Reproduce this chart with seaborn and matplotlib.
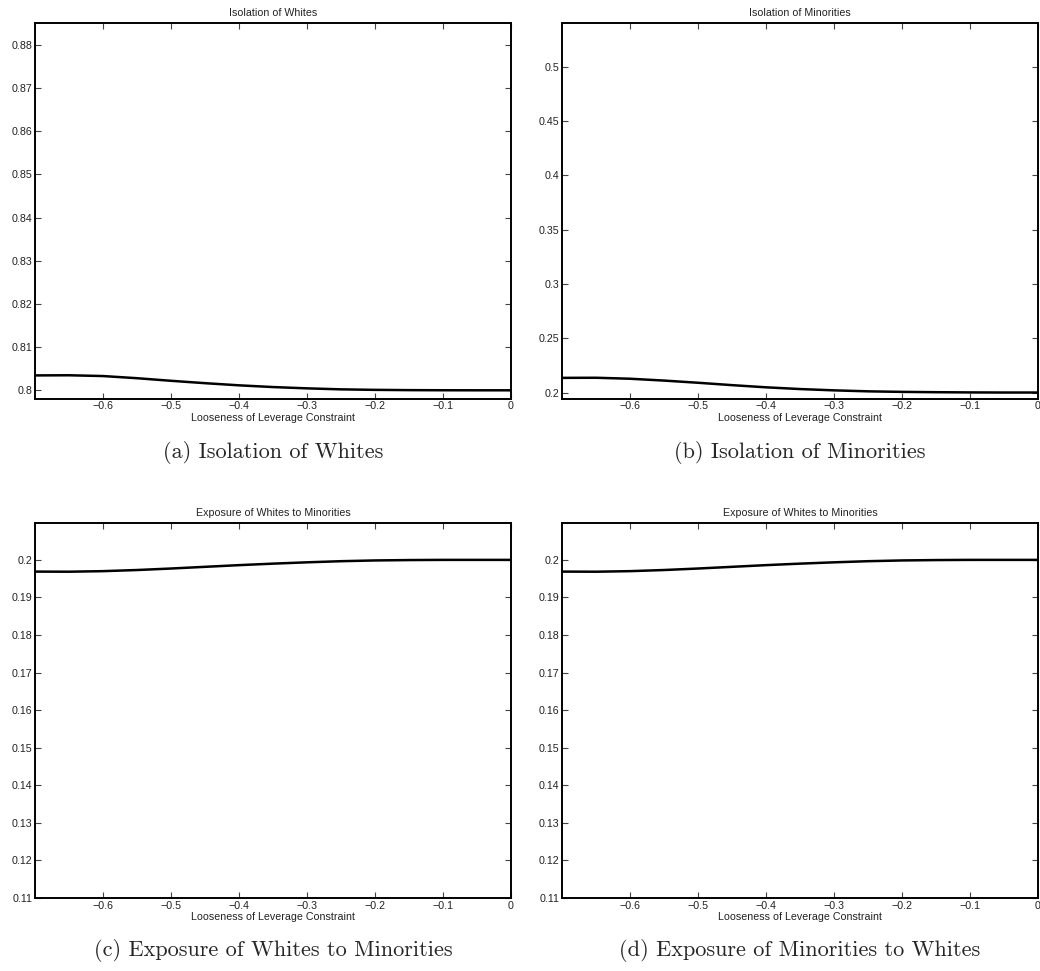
import numpy as np
import pandas as pd
import matplotlib
matplotlib.use("Agg")
import matplotlib.pyplot as plt
import seaborn as sns

# ---------------- data ----------------
x_vals = [-0.70, -0.65, -0.60, -0.55, -0.50, -0.45, -0.40, -0.35,
          -0.30, -0.25, -0.20, -0.15, -0.10, -0.05, 0.00]

iso_whites = [0.80345, 0.80348, 0.80330, 0.80280, 0.80220, 0.80165, 0.80115, 0.80075,
              0.80045, 0.80022, 0.80010, 0.80004, 0.80001, 0.80000, 0.80000]
iso_minorities = [0.2135, 0.2136, 0.2127, 0.2110, 0.2090, 0.2068, 0.2048, 0.2032,
                  0.2020, 0.2011, 0.2006, 0.2003, 0.2001, 0.2000, 0.2000]
exp_whites_min = [0.19688, 0.19685, 0.19700, 0.19730, 0.19770, 0.19815, 0.19860, 0.19900,
                  0.19935, 0.19965, 0.19985, 0.19995, 0.20000, 0.20000, 0.20000]
exp_min_whites = [0.19688, 0.19685, 0.19700, 0.19730, 0.19770, 0.19815, 0.19860, 0.19900,
                  0.19935, 0.19965, 0.19985, 0.19995, 0.20000, 0.20000, 0.20000]

panel_titles = ["Isolation of Whites", "Isolation of Minorities",
                "Exposure of Whites to Minorities", "Exposure of Whites to Minorities"]
captions = ["(a) Isolation of Whites", "(b) Isolation of Minorities",
            "(c) Exposure of Whites to Minorities", "(d) Exposure of Minorities to Whites"]
xlabel = "Looseness of Leverage Constraint"
x_ticks = [-0.6, -0.5, -0.4, -0.3, -0.2, -0.1, 0.0]
x_lim = (-0.7, 0.0)

y_ticks_a = [0.80, 0.81, 0.82, 0.83, 0.84, 0.85, 0.86, 0.87, 0.88]
y_ticks_b = [0.20, 0.25, 0.30, 0.35, 0.40, 0.45, 0.50]
y_ticks_c = [0.11, 0.12, 0.13, 0.14, 0.15, 0.16, 0.17, 0.18, 0.19, 0.20]
y_lims = [(0.7981, 0.8850), (0.1945, 0.540), (0.11, 0.2099), (0.11, 0.2099)]

series = [iso_whites, iso_minorities, exp_whites_min, exp_min_whites]
yticks_all = [y_ticks_a, y_ticks_b, y_ticks_c, y_ticks_c]

# ---------------- style ----------------
sns.set_style("ticks")
plt.rcParams["font.family"] = ["Liberation Sans", "DejaVu Sans"]
plt.rcParams["axes.unicode_minus"] = True
plt.rcParams["xtick.direction"] = "in"
plt.rcParams["ytick.direction"] = "in"
plt.rcParams["xtick.top"] = True
plt.rcParams["ytick.right"] = True

fig = plt.figure(figsize=(10.4, 9.71), dpi=100)

W = 1040.0
H = 971.0
lefts = [35, 562, 35, 562]
tops = [23.3, 23.3, 522.7, 522.7]
aw, ah = 476.0, 375.2
cap_y = [452, 452, 950, 950]
fs = 7.7


def fmt(t):
    s = "%g" % t
    return s.replace("-", "\u2212")


for i in range(4):
    ax = fig.add_axes([lefts[i] / W, 1 - (tops[i] + ah) / H, aw / W, ah / H])
    df = pd.DataFrame({"x": x_vals, "y": series[i]})
    sns.lineplot(data=df, x="x", y="y", ax=ax, color="black", linewidth=1.8)
    ax.set_xlim(*x_lim)
    ax.set_ylim(*y_lims[i])
    ax.set_xticks(x_ticks)
    ax.set_xticklabels([fmt(t) if t != 0 else "0" for t in x_ticks])
    ax.set_yticks(yticks_all[i])
    ax.set_yticklabels([fmt(t) for t in yticks_all[i]])
    ax.tick_params(axis="both", labelsize=fs, length=4, width=0.8, color="#444444",
                   pad=2, labelcolor="#222222")
    for s in ax.spines.values():
        s.set_linewidth(1.4)
        s.set_color("black")
    ax.set_title(panel_titles[i], fontsize=fs, pad=5, color="#222222")
    ax.set_xlabel(xlabel, fontsize=fs, labelpad=1, color="#222222")
    ax.set_ylabel("")
    cx = (lefts[i] + aw / 2) / W
    fig.text(cx, 1 - cap_y[i] / H, captions[i], ha="center", va="center",
             fontsize=16, family=["cmr10", "DejaVu Serif"])

fig.savefig("out.png", dpi=100)
